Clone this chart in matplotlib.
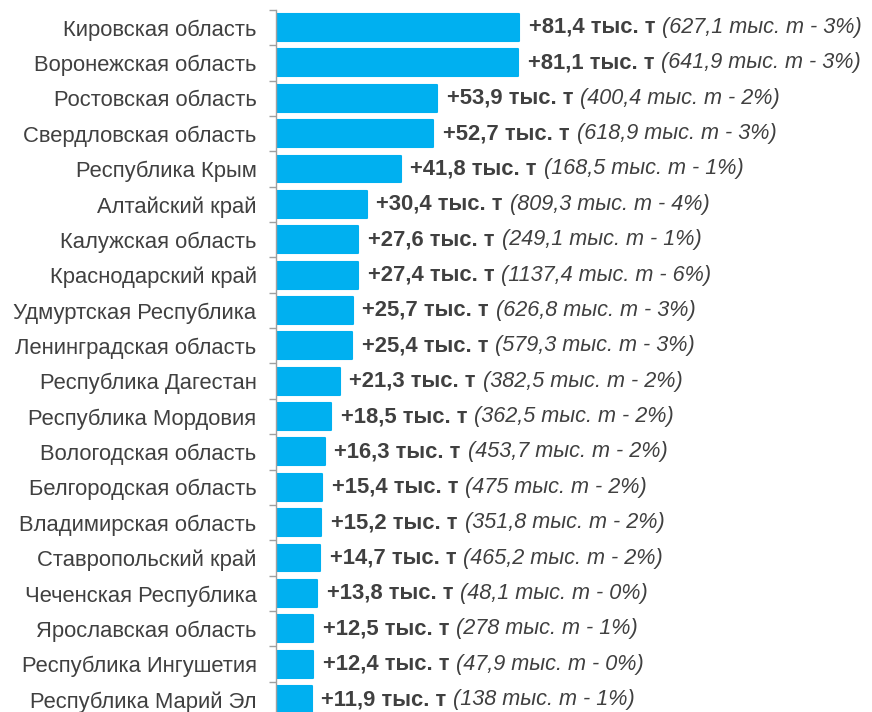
import matplotlib.pyplot as plt
import numpy as np

regions = [
    "Кировская область", "Воронежская область", "Ростовская область",
    "Свердловская область", "Республика Крым", "Алтайский край",
    "Калужская область", "Краснодарский край", "Удмуртская Республика",
    "Ленинградская область", "Республика Дагестан", "Республика Мордовия",
    "Вологодская область", "Белгородская область", "Владимирская область",
    "Ставропольский край", "Чеченская Республика", "Ярославская область",
    "Республика Ингушетия", "Республика Марий Эл",
]
growth = [81.4, 81.1, 53.9, 52.7, 41.8, 30.4, 27.6, 27.4, 25.7, 25.4,
          21.3, 18.5, 16.3, 15.4, 15.2, 14.7, 13.8, 12.5, 12.4, 11.9]
total = ["627,1", "641,9", "400,4", "618,9", "168,5", "809,3", "249,1", "1137,4",
         "626,8", "579,3", "382,5", "362,5", "453,7", "475", "351,8", "465,2",
         "48,1", "278", "47,9", "138"]
share = [3, 3, 2, 3, 1, 4, 1, 6, 3, 3, 2, 2, 2, 2, 2, 2, 0, 1, 0, 1]

plt.rcParams['font.family'] = ['Liberation Sans', 'DejaVu Sans']
text_color = '#404040'
bar_color = '#00B0F0'

W, H = 872, 712
fig = plt.figure(figsize=(W / 100, H / 100), dpi=100)

px_per_unit = 2.985
left_px, top_px, pitch = 276, 9.8, 35.37
ax_h = pitch * len(regions)
ax = fig.add_axes([left_px / W, (H - top_px - ax_h) / H, (W - left_px) / W, ax_h / H])

y = np.arange(len(regions))
ax.barh(y, growth, height=0.76, color=bar_color, edgecolor=bar_color,
        linewidth=1.5, joinstyle='round')

ax.set_xlim(0, (W - left_px) / px_per_unit)
ax.set_ylim(len(regions) - 0.5, -0.5)

ax.set_yticks(y)
ax.set_yticklabels(regions, fontsize=15.8, color=text_color)
ax.set_yticks(np.arange(len(regions) + 1) - 0.5, minor=True)
ax.tick_params(axis='y', which='major', length=0, pad=14)
ax.tick_params(axis='y', which='minor', length=5, color='#a0a0a0', width=1)
ax.set_xticks([])

for side in ['top', 'right', 'bottom']:
    ax.spines[side].set_visible(False)
ax.spines['left'].set_color('#a0a0a0')
ax.spines['left'].set_linewidth(1)

for i, v in enumerate(growth):
    label = f"+{v:.1f}".replace('.', ',') + " тыс. т"
    t = ax.annotate(label, xy=(v, i), xytext=(7, 0), textcoords='offset points',
                    ha='left', va='center', fontsize=15.8, fontweight='bold',
                    color=text_color)
    ax.annotate(f"({total[i]} тыс. т - {share[i]}%)", xy=(1, 0), xycoords=t,
                xytext=(5, 0), textcoords='offset points', ha='left',
                va='bottom', fontsize=15.6, fontstyle='italic', color=text_color)

fig.savefig('out.png', dpi=100)
